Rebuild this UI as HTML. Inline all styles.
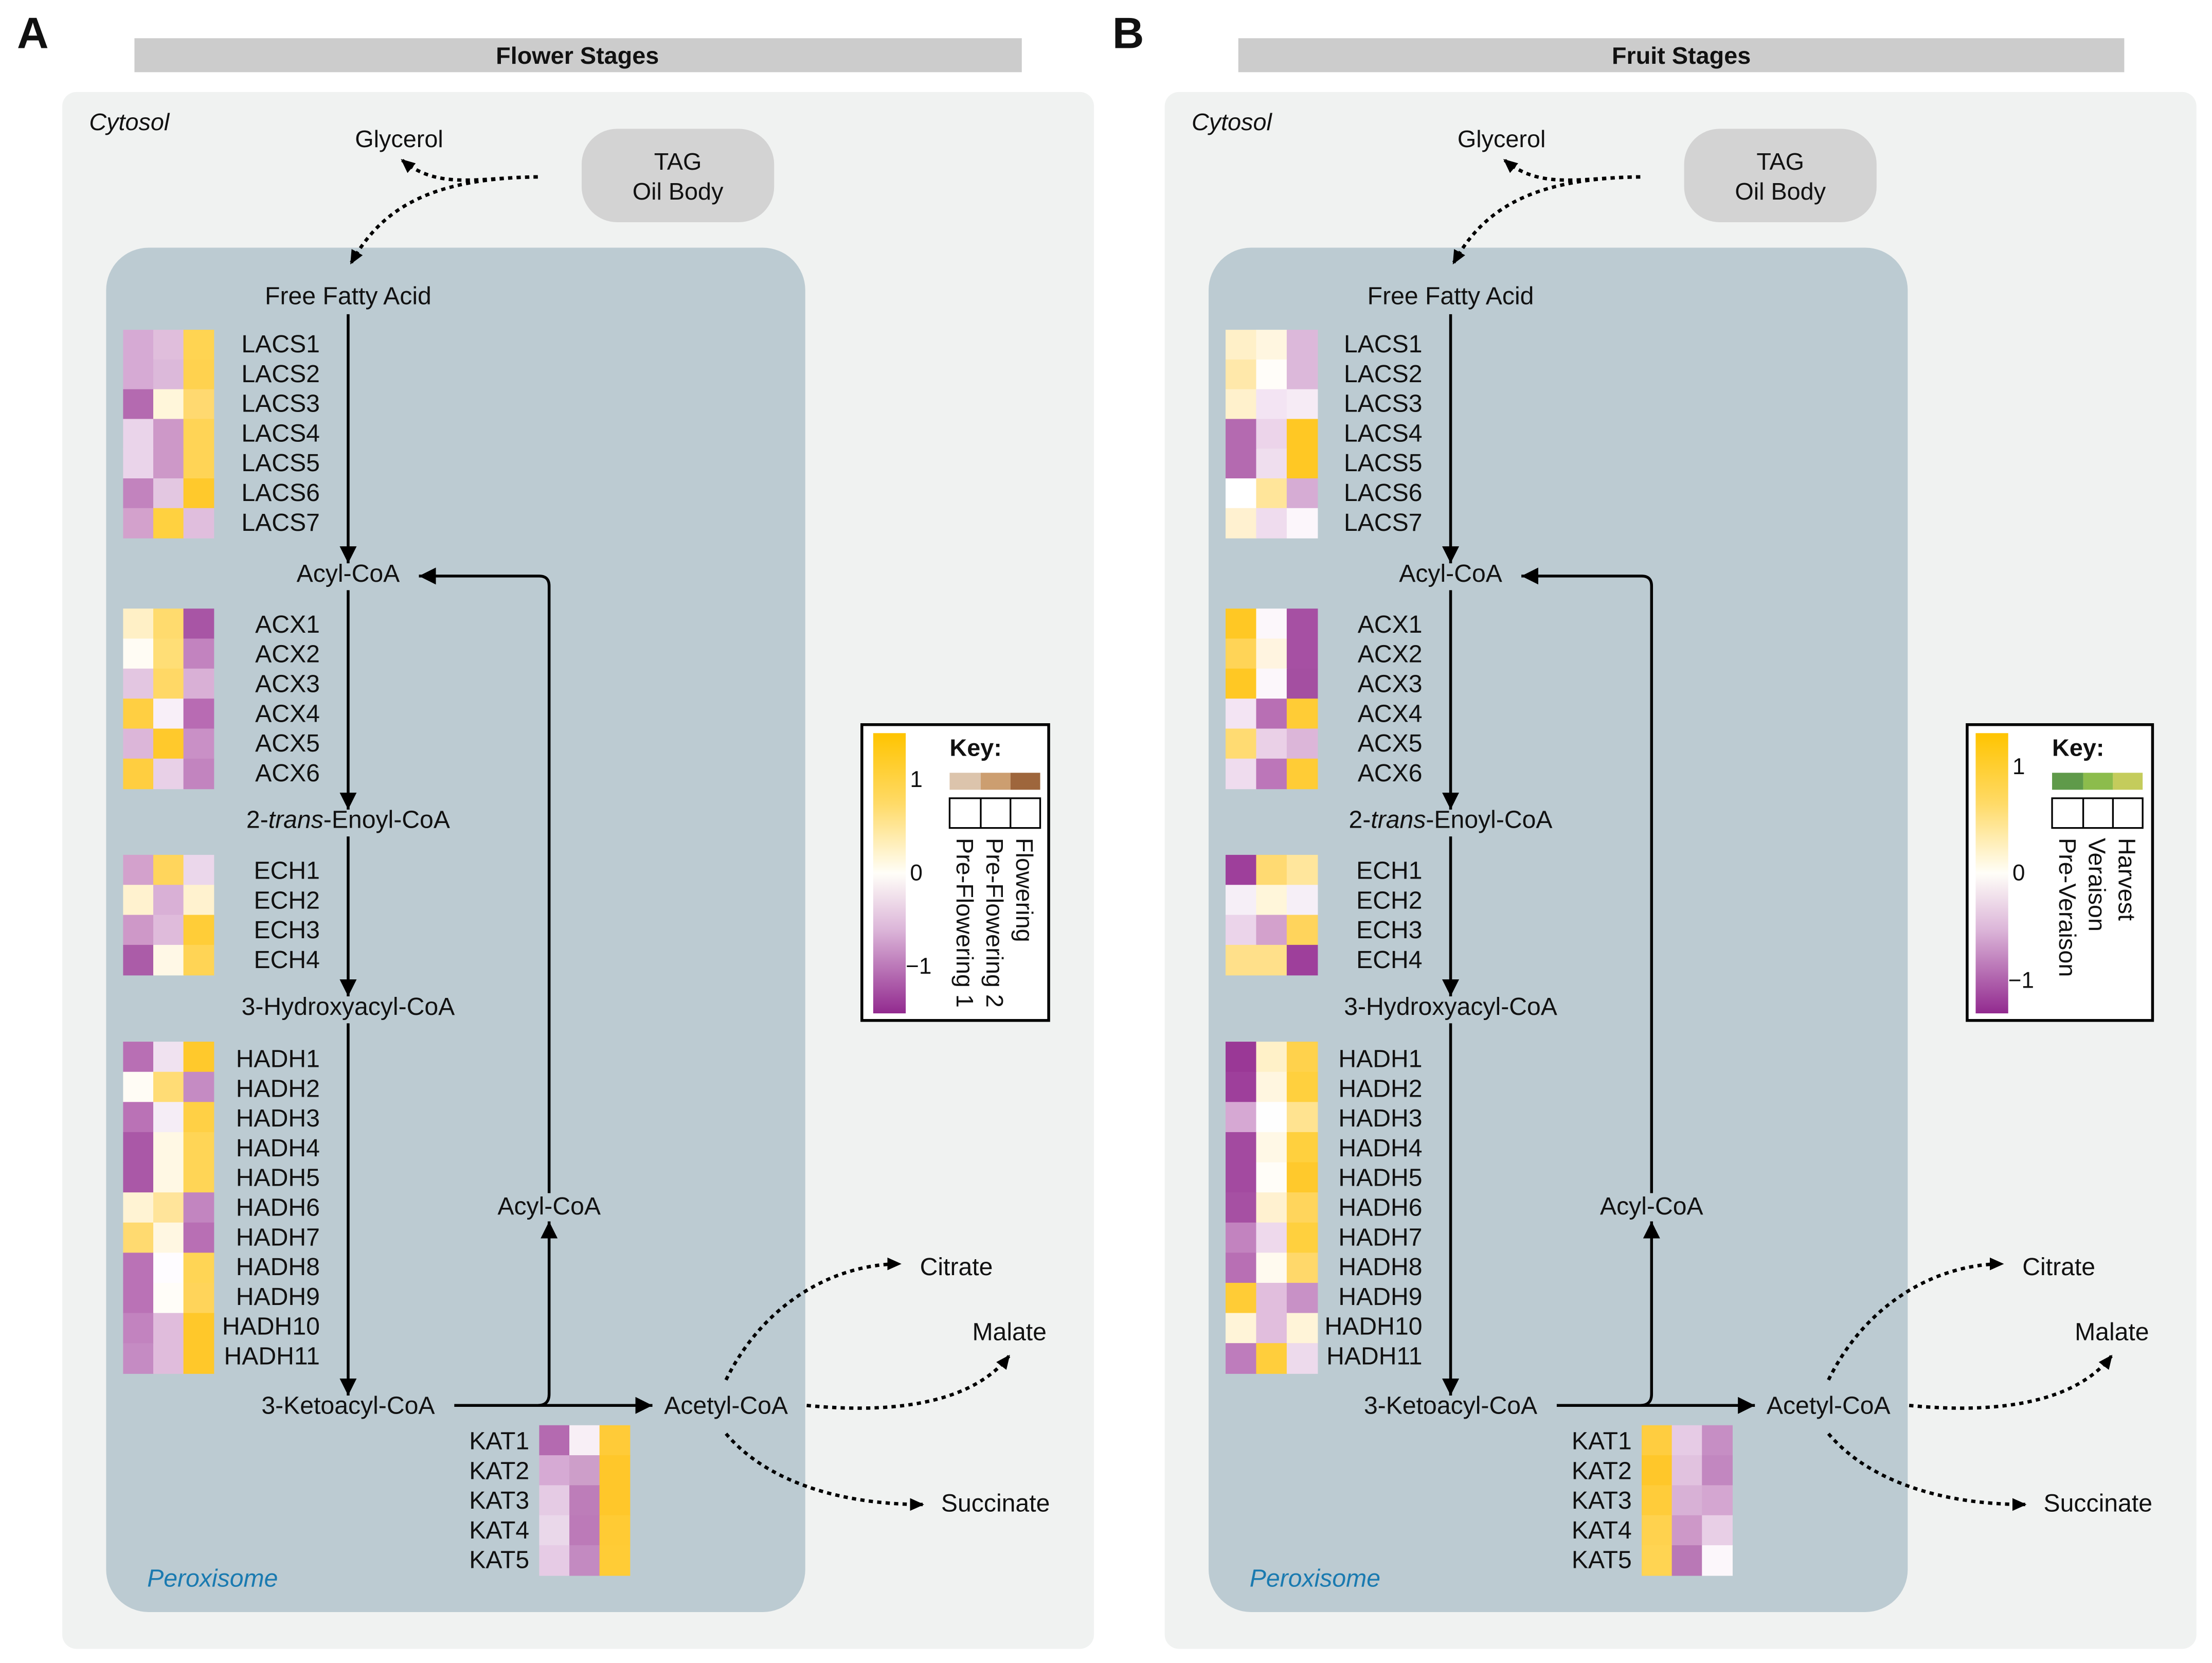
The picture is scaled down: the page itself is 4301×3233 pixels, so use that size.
<!DOCTYPE html>
<html><head><meta charset="utf-8">
<style>
html,body{margin:0;padding:0;background:#fff;}
svg{display:block;}
text{font-family:"Liberation Sans",Arial,sans-serif;fill:#111;}
</style></head>
<body>
<svg id="s" xmlns="http://www.w3.org/2000/svg" width="4301" height="3233" viewBox="0 0 1563 1175" preserveAspectRatio="none">
<defs>
<marker id="ar" markerUnits="userSpaceOnUse" markerWidth="12" markerHeight="12" refX="10" refY="5" orient="auto" viewBox="0 0 10 10"><path d="M0,0 L10,5 L0,10 z" fill="#000"/></marker>
<marker id="ad" markerUnits="userSpaceOnUse" markerWidth="10" markerHeight="10" refX="9" refY="5" orient="auto" viewBox="0 0 10 10"><path d="M0,0.5 L10,5 L0,9.5 z" fill="#000"/></marker>
<linearGradient id="cg" x1="0" y1="0" x2="0" y2="1">
<stop offset="0" stop-color="#ffc400"/><stop offset="0.25" stop-color="#ffda66"/><stop offset="0.5" stop-color="#fffef8"/><stop offset="0.7" stop-color="#dcb6d9"/><stop offset="1" stop-color="#922a8f"/>
</linearGradient>
</defs>
<rect width="1563" height="1175" fill="#fff"/>

<!-- Panel A -->
<text x="12" y="34" font-size="31" font-weight="bold">A</text>
<rect x="95" y="27" width="627" height="24" fill="#cccccc"/>
<text x="408" y="45" font-size="17" font-weight="bold" text-anchor="middle">Flower Stages</text>
<rect x="44" y="65" width="729" height="1100" rx="10" fill="#f0f2f1"/>
<text x="63" y="92" font-size="17" font-style="italic">Cytosol</text>
<text x="282" y="104" font-size="17" text-anchor="middle">Glycerol</text>
<rect x="411" y="91" width="136" height="66" rx="25" fill="#d3d3d3"/>
<text x="479" y="120" font-size="17" text-anchor="middle">TAG</text>
<text x="479" y="141" font-size="17" text-anchor="middle">Oil Body</text>
<rect x="75" y="175" width="494" height="964" rx="30" fill="#bccbd2"/>
<g fill="none" stroke="#000" stroke-width="2.4" stroke-dasharray="3 3">
<path d="M380,125 C340,125 310,135 284,113" marker-end="url(#ad)"/>
<path d="M380,125 C300,126 268,150 248,186" marker-end="url(#ad)"/>
<path d="M513,975 C540,920 590,893 636,893" marker-end="url(#ad)"/>
<path d="M570,993 C640,1000 690,988 713,958" marker-end="url(#ad)"/>
<path d="M513,1013 C540,1045 590,1063 652,1063" marker-end="url(#ad)"/>
</g>
<g fill="none" stroke="#000" stroke-width="2">
<path d="M246,222 V398" marker-end="url(#ar)"/>
<path d="M246,417 V572" marker-end="url(#ar)"/>
<path d="M246,591 V704" marker-end="url(#ar)"/>
<path d="M246,723 V986" marker-end="url(#ar)"/>
<path d="M321,993 H461" marker-end="url(#ar)"/>
<path d="M380,993 Q388,993 388,985 V863" marker-end="url(#ar)"/>
<path d="M388,843 V414 Q388,407 381,407 H296" marker-end="url(#ar)"/>
</g>
<g font-size="17.5" text-anchor="middle">
<text x="246" y="215">Free Fatty Acid</text>
<text x="246" y="411">Acyl-CoA</text>
<text x="246" y="585">2-<tspan font-style="italic">trans</tspan>-Enoyl-CoA</text>
<text x="246" y="717">3-Hydroxyacyl-CoA</text>
<text x="246" y="999">3-Ketoacyl-CoA</text>
<text x="513" y="999">Acetyl-CoA</text>
<text x="388" y="858">Acyl-CoA</text>
</g>
<g font-size="17.5">
<text x="650" y="901">Citrate</text>
<text x="687" y="947">Malate</text>
<text x="665" y="1068">Succinate</text>
<text x="104" y="1121" font-style="italic" style="fill:#1a7ab0">Peroxisome</text>
</g>
<g font-size="17.5" text-anchor="end">
<text x="226" y="249">LACS1</text><text x="226" y="270">LACS2</text><text x="226" y="291">LACS3</text><text x="226" y="312">LACS4</text><text x="226" y="333">LACS5</text><text x="226" y="354">LACS6</text><text x="226" y="375">LACS7</text>
<text x="226" y="447">ACX1</text><text x="226" y="468">ACX2</text><text x="226" y="489">ACX3</text><text x="226" y="510">ACX4</text><text x="226" y="531">ACX5</text><text x="226" y="552">ACX6</text>
<text x="226" y="621">ECH1</text><text x="226" y="642">ECH2</text><text x="226" y="663">ECH3</text><text x="226" y="684">ECH4</text>
<text x="226" y="754">HADH1</text><text x="226" y="775">HADH2</text><text x="226" y="796">HADH3</text><text x="226" y="817">HADH4</text><text x="226" y="838">HADH5</text><text x="226" y="859">HADH6</text><text x="226" y="880">HADH7</text><text x="226" y="901">HADH8</text><text x="226" y="922">HADH9</text><text x="226" y="943">HADH10</text><text x="226" y="964">HADH11</text>
<text x="374" y="1024">KAT1</text><text x="374" y="1045">KAT2</text><text x="374" y="1066">KAT3</text><text x="374" y="1087">KAT4</text><text x="374" y="1108">KAT5</text>
</g>
<rect x="609" y="512" width="132" height="209" fill="#fff" stroke="#000" stroke-width="2"/>
<rect x="617" y="518" width="23" height="198" fill="url(#cg)"/>
<text x="643" y="556" font-size="16">1</text>
<text x="643" y="622" font-size="16">0</text>
<text x="640" y="688" font-size="16">−1</text>
<text x="671" y="534" font-size="17" font-weight="bold">Key:</text>
<rect x="671" y="546" width="22" height="12" fill="#dcc4ac"/><rect x="693" y="546" width="21" height="12" fill="#cc9e70"/><rect x="714" y="546" width="21" height="12" fill="#9e663c"/>
<g fill="none" stroke="#000" stroke-width="1.2"><rect x="671" y="564" width="64" height="21"/><path d="M693,564 V585 M714,564 V585"/></g>
<g font-size="17">
<text transform="translate(676,592) rotate(90)">Pre-Flowering 1</text>
<text transform="translate(697,592) rotate(90)">Pre-Flowering 2</text>
<text transform="translate(718,592) rotate(90)">Flowering</text>
</g>

<!-- Panel B -->
<text x="786" y="34" font-size="31" font-weight="bold">B</text>
<rect x="875" y="27" width="626" height="24" fill="#cccccc"/>
<text x="1188" y="45" font-size="17" font-weight="bold" text-anchor="middle">Fruit Stages</text>
<rect x="823" y="65" width="729" height="1100" rx="10" fill="#f0f2f1"/>
<g transform="translate(779,0)">
<text x="63" y="92" font-size="17" font-style="italic">Cytosol</text>
<text x="282" y="104" font-size="17" text-anchor="middle">Glycerol</text>
<rect x="411" y="91" width="136" height="66" rx="25" fill="#d3d3d3"/>
<text x="479" y="120" font-size="17" text-anchor="middle">TAG</text>
<text x="479" y="141" font-size="17" text-anchor="middle">Oil Body</text>
<rect x="75" y="175" width="494" height="964" rx="30" fill="#bccbd2"/>
<g fill="none" stroke="#000" stroke-width="2.4" stroke-dasharray="3 3">
<path d="M380,125 C340,125 310,135 284,113" marker-end="url(#ad)"/>
<path d="M380,125 C300,126 268,150 248,186" marker-end="url(#ad)"/>
<path d="M513,975 C540,920 590,893 636,893" marker-end="url(#ad)"/>
<path d="M570,993 C640,1000 690,988 713,958" marker-end="url(#ad)"/>
<path d="M513,1013 C540,1045 590,1063 652,1063" marker-end="url(#ad)"/>
</g>
<g fill="none" stroke="#000" stroke-width="2">
<path d="M246,222 V398" marker-end="url(#ar)"/>
<path d="M246,417 V572" marker-end="url(#ar)"/>
<path d="M246,591 V704" marker-end="url(#ar)"/>
<path d="M246,723 V986" marker-end="url(#ar)"/>
<path d="M321,993 H461" marker-end="url(#ar)"/>
<path d="M380,993 Q388,993 388,985 V863" marker-end="url(#ar)"/>
<path d="M388,843 V414 Q388,407 381,407 H296" marker-end="url(#ar)"/>
</g>
<g font-size="17.5" text-anchor="middle">
<text x="246" y="215">Free Fatty Acid</text>
<text x="246" y="411">Acyl-CoA</text>
<text x="246" y="585">2-<tspan font-style="italic">trans</tspan>-Enoyl-CoA</text>
<text x="246" y="717">3-Hydroxyacyl-CoA</text>
<text x="246" y="999">3-Ketoacyl-CoA</text>
<text x="513" y="999">Acetyl-CoA</text>
<text x="388" y="858">Acyl-CoA</text>
</g>
<g font-size="17.5">
<text x="650" y="901">Citrate</text>
<text x="687" y="947">Malate</text>
<text x="665" y="1068">Succinate</text>
<text x="104" y="1121" font-style="italic" style="fill:#1a7ab0">Peroxisome</text>
</g>
<g font-size="17.5" text-anchor="end">
<text x="226" y="249">LACS1</text><text x="226" y="270">LACS2</text><text x="226" y="291">LACS3</text><text x="226" y="312">LACS4</text><text x="226" y="333">LACS5</text><text x="226" y="354">LACS6</text><text x="226" y="375">LACS7</text>
<text x="226" y="447">ACX1</text><text x="226" y="468">ACX2</text><text x="226" y="489">ACX3</text><text x="226" y="510">ACX4</text><text x="226" y="531">ACX5</text><text x="226" y="552">ACX6</text>
<text x="226" y="621">ECH1</text><text x="226" y="642">ECH2</text><text x="226" y="663">ECH3</text><text x="226" y="684">ECH4</text>
<text x="226" y="754">HADH1</text><text x="226" y="775">HADH2</text><text x="226" y="796">HADH3</text><text x="226" y="817">HADH4</text><text x="226" y="838">HADH5</text><text x="226" y="859">HADH6</text><text x="226" y="880">HADH7</text><text x="226" y="901">HADH8</text><text x="226" y="922">HADH9</text><text x="226" y="943">HADH10</text><text x="226" y="964">HADH11</text>
<text x="374" y="1024">KAT1</text><text x="374" y="1045">KAT2</text><text x="374" y="1066">KAT3</text><text x="374" y="1087">KAT4</text><text x="374" y="1108">KAT5</text>
</g>
</g>
<rect x="1390" y="512" width="131" height="209" fill="#fff" stroke="#000" stroke-width="2"/>
<rect x="1396" y="518" width="23" height="198" fill="url(#cg)"/>
<text x="1422" y="547" font-size="16">1</text>
<text x="1422" y="622" font-size="16">0</text>
<text x="1419" y="698" font-size="16">−1</text>
<text x="1450" y="534" font-size="17" font-weight="bold">Key:</text>
<rect x="1450" y="546" width="22" height="12" fill="#5f9a4a"/><rect x="1472" y="546" width="21" height="12" fill="#8cbc4c"/><rect x="1493" y="546" width="21" height="12" fill="#c4cc5c"/>
<g fill="none" stroke="#000" stroke-width="1.2"><rect x="1450" y="564" width="64" height="21"/><path d="M1472,564 V585 M1493,564 V585"/></g>
<g font-size="17">
<text transform="translate(1455,592) rotate(90)">Pre-Veraison</text>
<text transform="translate(1476,592) rotate(90)">Veraison</text>
<text transform="translate(1497,592) rotate(90)">Harvest</text>
</g>
<g id="hm"></g>
</svg>
<script>
var H=[
[87,233,21,21.3,[["#d6aad4","#e0bedc","#ffd452"],["#d6aad4","#dcb9da","#ffd24f"],["#b46ab0","#fff6da","#ffd970"],["#ead4ea","#cd98c8","#ffd456"],["#ead4ea","#cd98c8","#ffd456"],["#c283be","#e3c7e1","#ffc92c"],["#d3a1cc","#ffd140","#e0bedd"]]],
[87,430,21.2,21.3,[["#fff0c6","#ffdb6e","#a855a5"],["#fffcf4","#ffde76","#c283bf"],["#e3c6e1","#ffd866","#d9b0d6"],["#ffcf42","#f8eff8","#b86bb3"],["#dcb6d9","#ffc92c","#c990c6"],["#ffce40","#e8d0e7","#c284bf"]]],
[87,604,21.2,21.3,[["#d3a1cc","#ffd55c","#ebd7eb"],["#fff2cf","#d9b0d6","#fff2cf"],["#ce98c8","#dfbbdb","#ffcd38"],["#ab5ca8","#fff8e6","#ffd455"]]],
[87,736,21.3,21.3,[["#b86fb4","#f0e2f0","#ffc92c"],["#fffcf5","#ffdc75","#c58bc3"],["#ba72b6","#f5edf6","#ffd045"],["#aa58a7","#fff8e4","#ffd556"],["#aa58a7","#fff8e4","#ffd556"],["#fff3d3","#ffe49a","#c285c0"],["#ffda70","#fff7e2","#b86fb4"],["#ba72b6","#fefcff","#ffd555"],["#ba72b6","#fffdf8","#ffd45a"],["#c283bf","#e0bcdc","#ffc82a"],["#c58bc3","#e0bcdc","#ffc82a"]]],
[381,1007,21.2,21.3,[["#b46ab0","#f8eff6","#ffcb38"],["#d6aad4","#cd9ec9","#ffc72a"],["#e5cbe4","#bd7db9","#ffc72a"],["#ead8ea","#bc7ab8","#ffcb34"],["#e6cbe5","#c38ac1","#ffcc36"]]],
[866,233,21,21.6,[["#fff0c8","#fff6e0","#dcb8da"],["#ffe8aa","#fffdf9","#dcb8da"],["#fff1cc","#f3e4f3","#f6ebf5"],["#b46ab0","#ecd4ea","#ffc824"],["#b46ab0","#efdeee","#ffc824"],["#ffffff","#ffe59a","#d6acd4"],["#fff1d0","#efdcee","#fcf6fb"]]],
[866,430,21.2,21.6,[["#ffc824","#fcf7fb","#a650a3"],["#ffd457","#fff4e0","#a650a3"],["#ffc824","#fcf7fb","#a44fa1"],["#f3e4f3","#b86fb4","#ffcc36"],["#ffdb72","#ead0e7","#dcb6d9"],["#efdcee","#bc76b9","#ffcc36"]]],
[866,604,21.2,21.6,[["#9e3f9b","#ffda72","#ffe69c"],["#f6eff7","#fff6da","#f6eff7"],["#ebd4ea","#d3a1cc","#ffd45c"],["#ffe08a","#ffe08a","#9e3f9b"]]],
[866,736,21.3,21.6,[["#9a3896","#fff1c8","#ffd24c"],["#9e3f9b","#fff6e0","#ffd03e"],["#d6a8d3","#fefefe","#ffe390"],["#a34aa0","#fff8e6","#ffd03e"],["#a34aa0","#fffdf8","#ffc92c"],["#a650a3","#fff1d0","#ffd55c"],["#c283bf","#eed9ec","#ffd03e"],["#b86fb4","#fffaef","#ffd86a"],["#ffcc36","#e1bedd","#c891c6"],["#fff4d8","#e1bedd","#fff4d8"],["#be7cbc","#ffce3c","#eddaec"]]],
[1160,1007,21.2,21.3,[["#ffcd40","#e6cbe5","#c68ec4"],["#ffc72a","#e1c2df","#c287c0"],["#ffcc3a","#d8b1d6","#d4a6d1"],["#ffd24e","#cd98c8","#e8cfe6"],["#ffd452","#b978b6","#fcf7fb"]]]
];
var g=document.getElementById('hm'),ns="http://www.w3.org/2000/svg";
H.forEach(function(h){h[4].forEach(function(r,i){r.forEach(function(c,j){var e=document.createElementNS(ns,'rect');e.setAttribute('x',h[0]+j*h[3]);e.setAttribute('y',h[1]+i*h[2]);e.setAttribute('width',h[3]+0.4);e.setAttribute('height',h[2]+0.4);e.setAttribute('fill',c);g.appendChild(e);});});});
</script>
</body></html>
